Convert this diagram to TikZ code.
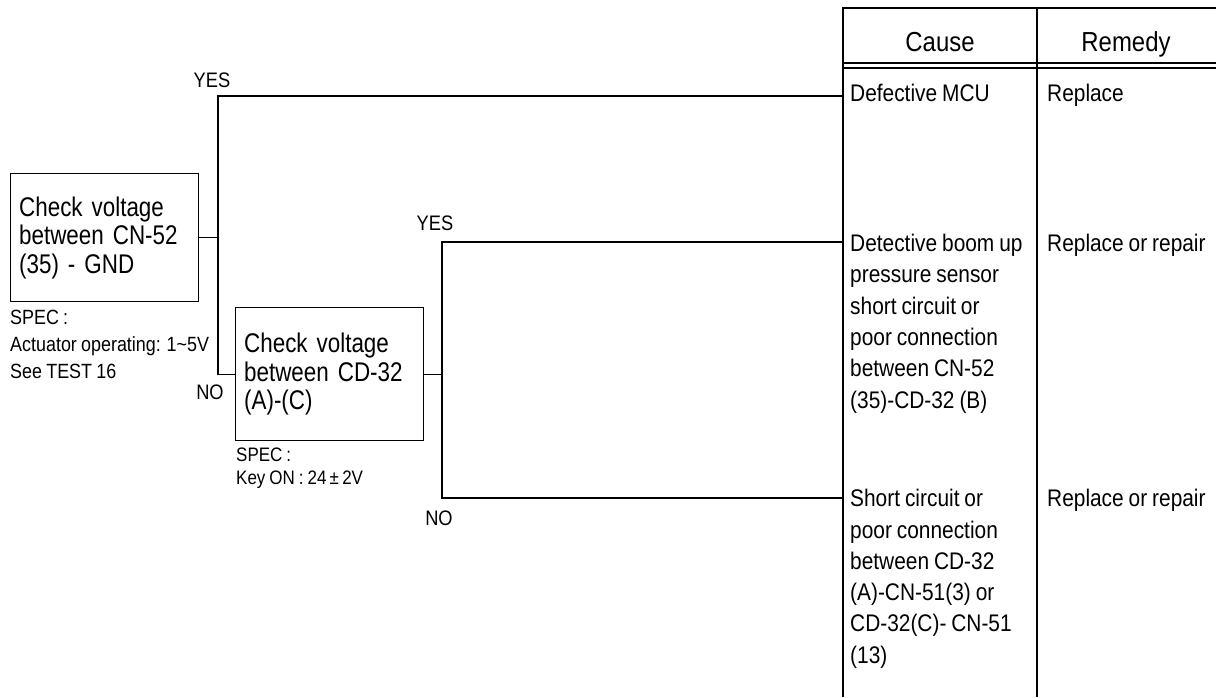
\documentclass[tikz,border=0pt]{standalone}
\usepackage{fontspec}
\setmainfont{Liberation Sans}
\newfontfamily\boxfont[FakeStretch=0.83,WordSpace=0.8]{Liberation Sans}
\newfontfamily\cellfont[FakeStretch=0.87,WordSpace=0.85]{Liberation Sans}
\begin{document}
\begin{tikzpicture}[x=1pt,y=-1pt,
  box/.style={draw, line width=1.3pt, anchor=north west, align=left, inner xsep=8.5pt, inner ysep=0pt, text width=171pt, font=\boxfont\fontsize{27}{28.5}\selectfont},
  lbl/.style={anchor=base, inner sep=0pt, font=\cellfont\fontsize{21}{24}\selectfont},
  spec/.style={anchor=north west, align=left, inner sep=0pt, font=\cellfont\fontsize{20.6}{27}\selectfont},
  spectwo/.style={anchor=north west, align=left, inner sep=0pt, font=\cellfont\fontsize{19.5}{23}\selectfont},
  cell/.style={anchor=north west, align=left, inner sep=0pt, font=\cellfont\fontsize{24}{31.3}\selectfont},
  head/.style={anchor=base, inner sep=0pt, font=\cellfont\fontsize{27.5}{30}\selectfont},
  wire/.style={line width=1.1pt},
  rule/.style={line width=1.3pt}]

\useasboundingbox (0,0) rectangle (1216,697);

% table frame
\draw[rule] (843,697) -- (843,8) -- (1216,8);
\draw[rule] (1037,8) -- (1037,697);
\draw[rule] (843,63) -- (1216,63);
\draw[rule] (843,68) -- (1216,68);

\node[head] (hc) at (940,51.8) {Cause};
\node[head] (hr) at (1126,51.8) {Remedy};

% check boxes
\node[box, minimum height=128pt] (b1) at (10,173) {Check voltage\\between CN-52\\(35) - GND};
\node[box, minimum height=133pt] (b2) at (235,307) {Check voltage\\between CD-32\\(A)-(C)};

\node[spec] (s1) at (10,310.3) {SPEC :\\Actuator operating: 1\textasciitilde 5V\\See TEST 16};
\node[spectwo] (s2) at (236,447.7) {SPEC :\\Key ON : 24\,±\,2V};

% cause / remedy cells
\node[cell] (c1) at (850,84.1) {Defective MCU};
\node[cell] (c2) at (850,234.1) {Detective boom up\\pressure sensor\\short circuit or\\poor connection\\between CN-52\\(35)-CD-32 (B)};
\node[cell] (c3) at (850,489.1) {Short circuit or\\poor connection\\between CD-32\\(A)-CN-51(3) or\\CD-32(C)- CN-51\\(13)};
\node[cell] (r1) at (1047,84.1) {Replace};
\node[cell] (r2) at (1047,234.1) {Replace or repair};
\node[cell] (r3) at (1047,489.1) {Replace or repair};

% junctions and ends
\coordinate (j1) at (b1.east -| 218,0);
\coordinate (j2) at (b2.east -| 442,0);
\coordinate (e1) at (843,96);
\coordinate (e2) at (843,242);
\coordinate (e3) at (843,498);

\draw[wire] (b1.east) -- (j1) |- (e1);
\draw[wire] (j1) |- (b2.west);
\draw[wire] (b2.east) -- (j2) |- (e2);
\draw[wire] (j2) |- (e3);

% labels
\node[lbl] (y1) at (212,87.5) {YES};
\node[lbl] (n1) at (210,399.5) {NO};
\node[lbl] (y2) at (435,230.5) {YES};
\node[lbl] (n2) at (439,525.5) {NO};
\end{tikzpicture}
\end{document}
